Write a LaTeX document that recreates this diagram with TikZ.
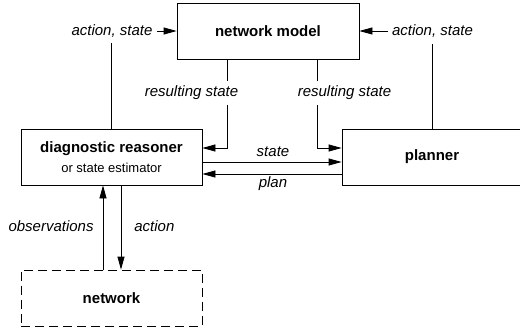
\documentclass[tikz,border=0pt]{standalone}
\usepackage{fontspec}
\setmainfont{Liberation Sans}
\usetikzlibrary{arrows.meta}
\begin{document}
\begin{tikzpicture}[x=1pt,y=1pt,
  line width=0.8pt,
  box/.style={draw, minimum height=56pt, inner sep=0pt,
    font=\fontsize{15}{18}\selectfont\bfseries},
  lbl/.style={inner sep=0pt, anchor=base, font=\fontsize{15}{18}\selectfont\itshape},
  arr/.style={-{Triangle[length=13pt,width=7pt]}}]
\useasboundingbox (0,0) rectangle (520,-329);

% boxes
\node[box, minimum width=182pt] (model) at (268,-31) {network model};
\node[box, minimum width=181pt, align=center] (diag) at (111.5,-157)
  {diagnostic reasoner\\[2pt]{\fontsize{13}{15}\selectfont\mdseries or state estimator}};
\node[box, minimum width=180pt] (planner) at (432,-157) {planner};
\node[box, minimum width=181pt, dash pattern=on 9pt off 5pt] (network) at (111.5,-298) {network};

% labels of the feedback paths into the model
\node[lbl, inner xsep=4pt, inner ysep=5pt] (asL) at (112,-36) {action, state};
\node[lbl, inner xsep=4pt, inner ysep=6pt] (asR) at (432.5,-36) {action, state};
\draw[arr] (asL.east |- model.west) -- (model.west);
\draw[arr] (asR.west |- model.east) -- (model.east);
\draw (diag.north) -- (diag.north |- asL.south);
\draw (planner.north -| asR) -- (asR.south);

% resulting state back to reasoner and planner
\coordinate (rsLx) at (227,0);
\coordinate (rsRx) at (317,0);
\draw[arr] (model.south -| rsLx) |- ([yshift=9pt]diag.east);
\draw[arr] (model.south -| rsRx) |- ([yshift=9pt]planner.west);
\node[lbl, fill=white, inner xsep=2pt, inner ysep=5pt] (rsL) at (191.5,-96.7) {resulting state};
\node[lbl, fill=white, inner xsep=2pt, inner ysep=5pt] (rsR) at (344.5,-96.7) {resulting state};

% state and plan exchange
\draw[arr] ([yshift=-5pt]diag.east) -- ([yshift=-5pt]planner.west);
\draw[arr] ([yshift=-17pt]planner.west) -- ([yshift=-17pt]diag.east);
\node[lbl] (st) at (273,-156) {state};
\node[lbl] (pl) at (273,-187) {plan};

% network interaction
\draw[arr] ([xshift=-8.5pt]network.north) -- ([xshift=-8.5pt]diag.south);
\draw[arr] ([xshift=9.5pt]diag.south) -- ([xshift=9.5pt]network.north);
\node[lbl, anchor=base east] (obs) at (94,-231.7) {observations};
\node[lbl, anchor=base west] (act) at (134,-231.7) {action};
\end{tikzpicture}
\end{document}
